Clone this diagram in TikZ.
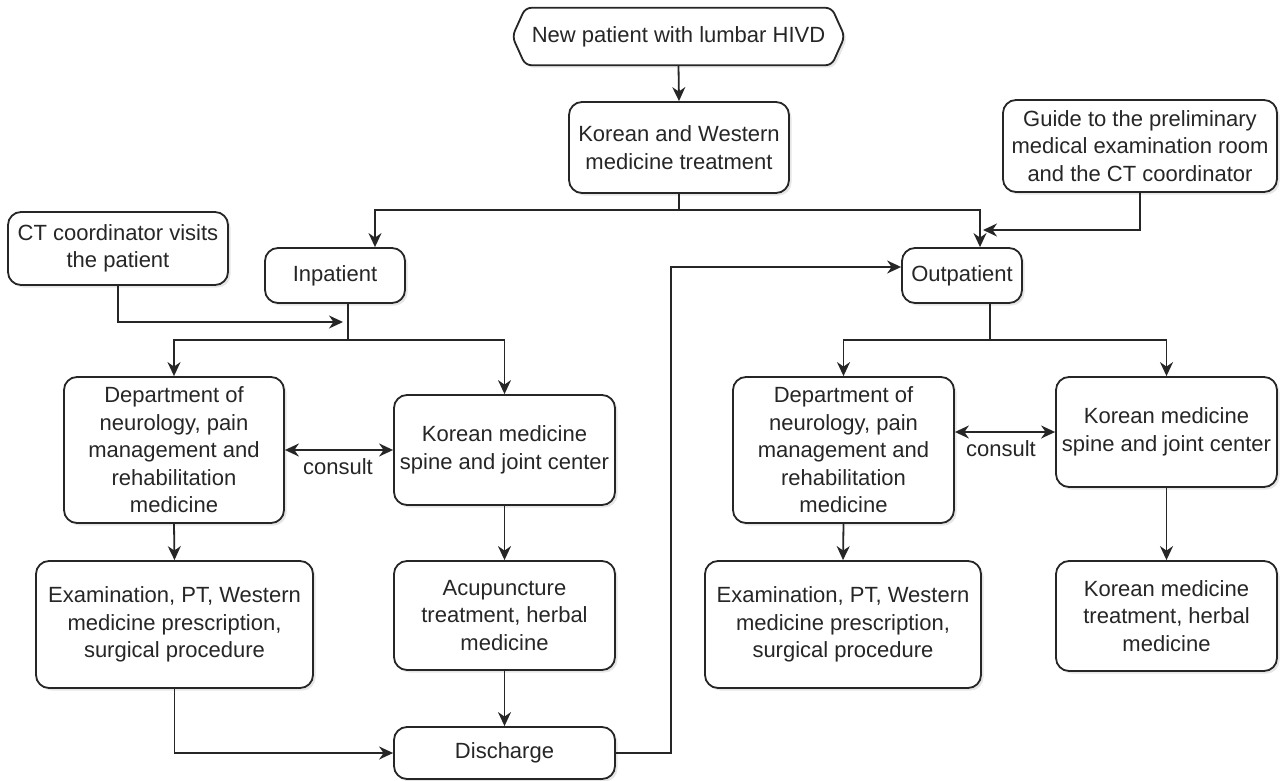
\documentclass[tikz,border=0pt]{standalone}
\usepackage{fontspec}
\setmainfont{Liberation Sans}
\usetikzlibrary{arrows.meta,calc,shadows}
\begin{document}
\begin{tikzpicture}[x=1pt,y=-1pt,
  txt/.style={font=\fontsize{22}{27.5}\selectfont, text=black!85},
  shad/.style={drop shadow={opacity=0.2,shadow xshift=2.5pt,shadow yshift=-2.5pt}},
  box/.style={txt, draw=black!85, line width=1.8pt, rounded corners=13pt, fill=white, align=center, inner sep=0pt, shad},
  ln/.style={line width=1.8pt, draw=black!85},
  arr/.style={ln, -{Stealth[length=14pt,width=13pt,inset=4.5pt]}},
  arrtwo/.style={ln, {Stealth[length=14pt,width=13pt,inset=4.5pt]}-{Stealth[length=14pt,width=13pt,inset=4.5pt]}}
]
\useasboundingbox (0,0) rectangle (1282,781);

% start hexagon
\node[txt, minimum width=332pt, minimum height=57pt, inner sep=0pt] (start) at (678.5,36.5) {};
\draw[ln, fill=white, rounded corners=6pt, shad]
  (start.west) -- ($(start.north west)+(13,0)$) -- ($(start.north east)+(-13,0)$)
  -- (start.east) -- ($(start.south east)+(-13,0)$) -- ($(start.south west)+(13,0)$) -- cycle;
\node[txt] at (start.center) {New patient with lumbar HIVD};

\node[box, minimum width=220pt, minimum height=91pt] (kw) at (679,147.5) {Korean and Western\\medicine treatment};
\node[box, minimum width=274pt, minimum height=92pt] (guide) at (1140,146) {Guide to the preliminary\\medical examination room\\and the CT coordinator};
\node[box, minimum width=220pt, minimum height=73pt] (ctv) at (118,248.5) {CT coordinator visits\\the patient};
\node[box, minimum width=140pt, minimum height=55pt] (inp) at (335,275.5) {Inpatient};
\node[box, minimum width=120pt, minimum height=55pt] (outp) at (962,275.5) {Outpatient};

\node[box, minimum width=220pt, minimum height=146pt] (dL) at (174,450) {Department of\\neurology, pain\\management and\\rehabilitation\\medicine};
\node[box, minimum width=221pt, minimum height=110pt] (kL) at (504.5,450) {Korean medicine\\spine and joint center};
\node[box, minimum width=277pt, minimum height=127pt] (eL) at (174.5,624.5) {Examination, PT, Western\\medicine prescription,\\surgical procedure};
\node[box, minimum width=221pt, minimum height=109pt] (aL) at (504.5,615.5) {Acupuncture\\treatment, herbal\\medicine};
\node[box, minimum width=221pt, minimum height=52pt] (dis) at (504.5,753) {Discharge};

\node[box, minimum width=221pt, minimum height=146pt] (dR) at (843.5,450) {Department of\\neurology, pain\\management and\\rehabilitation\\medicine};
\node[box, minimum width=221pt, minimum height=110pt] (kR) at (1166.5,432) {Korean medicine\\spine and joint center};
\node[box, minimum width=276pt, minimum height=127pt] (eR) at (843,624.5) {Examination, PT, Western\\medicine prescription,\\surgical procedure};
\node[box, minimum width=221pt, minimum height=110pt] (tR) at (1166.5,616) {Korean medicine\\treatment, herbal\\medicine};

% connectors
\draw[arr] (start.south) -- (kw.north);
\coordinate (j1) at (679,210);
\draw[arr] (kw.south) -- (j1) -| ($(inp.north)+(40,0)$);
\draw[arr] (j1) -| ($(outp.north)+(18,0)$);
\coordinate (g1) at (983,230);
\draw[arr] (guide.south) |- (g1);
\coordinate (c1) at (343,322);
\draw[arr] (ctv.south) |- (c1);

\coordinate (j2) at (348,340);
\draw[ln] ($(inp.south)+(13,0)$) -- (j2);
\draw[arr] (j2) -| (dL.north);
\draw[arr] (j2) -| (kL.north);

\draw[arrtwo] (dL.east) -- (kL.west);
\node[txt] at (338,467) {consult};

\draw[arr] (dL.south) -- (eL.north);
\draw[arr] (kL.south) -- (aL.north);
\draw[arr] (aL.south) -- (dis.north);
\draw[arr] (eL.south) |- (dis.west);

\coordinate (d1) at (671,753);
\draw[arr] (dis.east) -- (d1) |- ($(outp.west)+(0,-8.5)$);

\coordinate (j3) at (990,340);
\draw[ln] ($(outp.south)+(28,0)$) -- (j3);
\draw[arr] (j3) -| (dR.north);
\draw[arr] (j3) -| (kR.north);

\draw[arrtwo] (kR.west -| dR.east) -- (kR.west);
\node[txt] at (1001,449) {consult};

\draw[arr] (dR.south) -- (eR.north);
\draw[arr] (kR.south) -- (tR.north);
\end{tikzpicture}
\end{document}
